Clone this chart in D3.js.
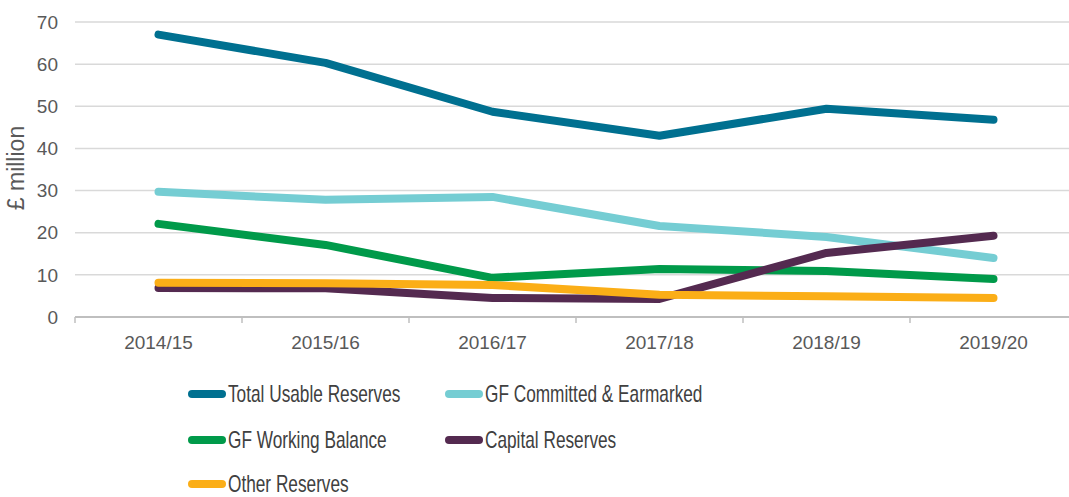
<!DOCTYPE html>
<html><head><meta charset="utf-8">
<script src="https://cdn.jsdelivr.net/npm/d3@7"></script>
<style>body{margin:0;background:#fff}svg{display:block}</style>
</head><body>
<svg id="chart" width="1069" height="497"></svg>
<script>
const categories = ["2014/15","2015/16","2016/17","2017/18","2018/19","2019/20"];
const seriesNames = ["Total Usable Reserves","GF Committed & Earmarked","GF Working Balance","Capital Reserves","Other Reserves"];
const totalUsable = [67.0, 60.3, 48.7, 43.0, 49.4, 46.8];
const gfCommitted = [29.7, 27.8, 28.5, 21.6, 19.0, 14.0];
const gfWorking = [22.1, 17.1, 9.3, 11.4, 10.9, 9.0];
const capitalRes = [6.9, 6.8, 4.5, 4.3, 15.2, 19.3];
const otherRes = [8.1, 8.0, 7.6, 5.3, 4.9, 4.5];
const yTicks = [0,10,20,30,40,50,60,70];
const colors = ["#007090","#75CDD3","#009A4A","#542A50","#FBAE17"];

(function(){
const svg = d3.select("#chart");
const mL = 75, mR = 1077, mT = 22, mB = 317;
const x = d3.scaleBand().domain(categories).range([mL, mR]).padding(0);
const y = d3.scaleLinear().domain([0,70]).range([mB, mT]);

// gridlines
svg.append("g").selectAll("line").data(yTicks.filter(d=>d>0)).join("line")
  .attr("x1", mL).attr("x2", mR).attr("y1", d=>y(d)).attr("y2", d=>y(d))
  .attr("stroke","#d9d9d9").attr("stroke-width",1.5);

// y axis labels
svg.append("g").selectAll("text").data(yTicks).join("text")
  .attr("x", 58).attr("y", d=>y(d)).attr("dy","0.35em").attr("text-anchor","end")
  .attr("font-family","Liberation Sans, Arial, sans-serif").attr("font-size",19)
  .attr("fill","#595959").text(d=>d);

// x axis
const xAxis = svg.append("g").attr("transform",`translate(0,${mB})`);
xAxis.append("line").attr("x1",mL).attr("x2",mR).attr("stroke","#bfbfbf").attr("stroke-width",2);
const bounds = categories.map(c=>x(c)).concat([mR]);
xAxis.selectAll("line.tick").data(bounds).join("line").attr("class","tick")
  .attr("x1",d=>d).attr("x2",d=>d).attr("y1",0).attr("y2",6).attr("stroke","#bfbfbf").attr("stroke-width",1.5);
xAxis.selectAll("text").data(categories).join("text")
  .attr("x", d=>x(d)+x.bandwidth()/2).attr("y", 32)
  .attr("text-anchor","middle").attr("font-family","Liberation Sans, Arial, sans-serif")
  .attr("font-size",19).attr("fill","#595959").text(d=>d);

// y title
svg.append("text").attr("transform","translate(24,168) rotate(-90)")
  .attr("text-anchor","middle").attr("font-family","Liberation Sans, Arial, sans-serif")
  .attr("font-size",23).attr("fill","#595959").text("£ million");

// lines
const seriesData = [totalUsable, gfCommitted, gfWorking, capitalRes, otherRes];
const line = d3.line().x((d,i)=>x(categories[i])+x.bandwidth()/2).y(d=>y(d));
svg.append("g").selectAll("path").data(seriesData).join("path")
  .attr("d", d=>line(d)).attr("fill","none")
  .attr("stroke",(d,i)=>colors[i]).attr("stroke-width",8)
  .attr("stroke-linecap","round").attr("stroke-linejoin","round");

// legend
const legPos = [[192,394],[449,394],[192,440],[449,440],[192,484]];
const leg = svg.append("g").selectAll("g").data(seriesNames).join("g")
  .attr("transform",(d,i)=>`translate(${legPos[i][0]},${legPos[i][1]})`);
leg.append("line").attr("x1",0).attr("x2",30).attr("y1",0).attr("y2",0)
  .attr("stroke",(d,i)=>colors[i]).attr("stroke-width",8).attr("stroke-linecap","round");
leg.append("text").attr("transform","translate(36,0) scale(0.75,1)").attr("dy","0.35em")
  .attr("font-family","Liberation Sans, Arial, sans-serif")
  .attr("font-size",23).attr("fill","#404040").text(d=>d);
})();
</script>
</body></html>
